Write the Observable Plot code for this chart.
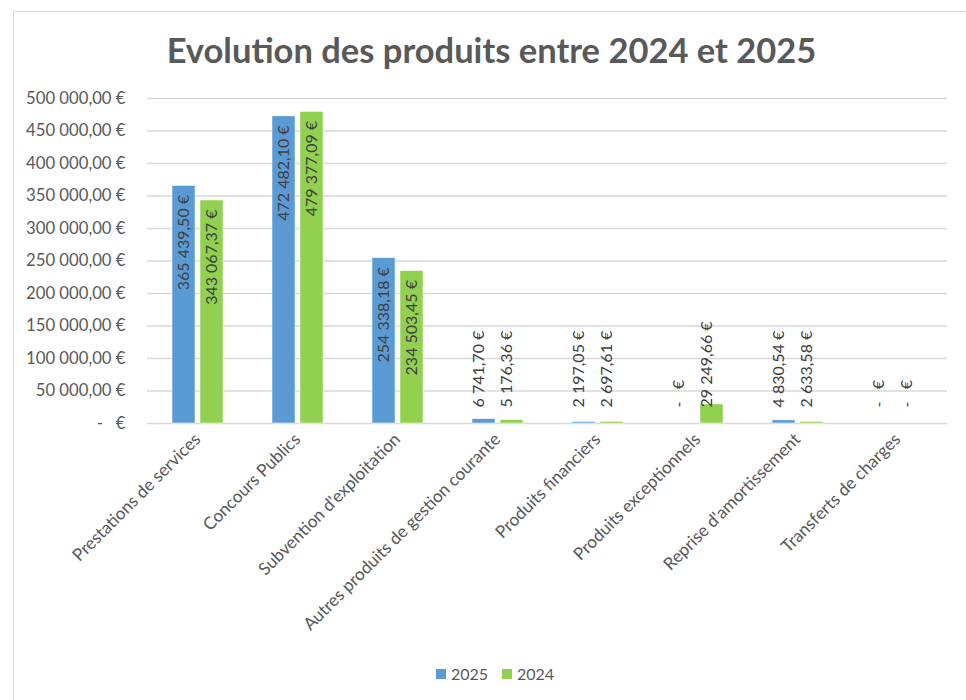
<!DOCTYPE html>
<html><head><meta charset="utf-8">
<script src="https://cdn.jsdelivr.net/npm/d3@7"></script>
<script src="https://cdn.jsdelivr.net/npm/@observablehq/plot@0.6"></script>
<style>
body{margin:0;width:966px;height:700px;overflow:hidden;background:#fff;font-family:Lato,sans-serif;}
#wrap{position:relative;width:966px;height:700px;}
#border{position:absolute;left:13px;top:11px;width:1000px;height:1000px;border:1px solid #d9d9d9;box-sizing:border-box;}
#title{position:absolute;left:0;top:28px;width:983px;text-align:center;font-weight:700;font-size:34.5px;color:#595959;line-height:44px;}
#chart{position:absolute;left:0;top:80px;}
#legend{position:absolute;top:664px;left:0;width:990px;display:flex;justify-content:center;align-items:center;font-size:16px;color:#595959;}
.item{display:flex;align-items:center;margin:0 7px;}
.sw{width:10px;height:10px;margin-right:5px;}
</style></head>
<body><div id="wrap"><div id="border"></div><div id="title">Evolution des produits entre 2024 et 2025</div><div id="chart"></div><div id="legend"></div></div>
<script>
const categories = ["Prestations de services","Concours Publics","Subvention d'exploitation","Autres produits de gestion courante","Produits financiers","Produits exceptionnels","Reprise d'amortissement","Transferts de charges"];
const series = ["2025","2024"];
const values2025 = [365439.50, 472482.10, 254338.18, 6741.70, 2197.05, 0, 4830.54, 0];
const values2024 = [343067.37, 479377.09, 234503.45, 5176.36, 2697.61, 29249.66, 2633.58, 0];
const seriesColors = ["#5B9BD5","#92D050"];
const yTicks = [0,50000,100000,150000,200000,250000,300000,350000,400000,450000,500000];
const yTickLabels = ["-\u00a0\u00a0\u00a0€","50 000,00 €","100 000,00 €","150 000,00 €","200 000,00 €","250 000,00 €","300 000,00 €","350 000,00 €","400 000,00 €","450 000,00 €","500 000,00 €"];

const data = categories.flatMap((c,i)=>[
  {category:c, serie:"2025", value:values2025[i]},
  {category:c, serie:"2024", value:values2024[i]}
]);

function fmt(v){
  if (v === 0) return "-\u00a0\u00a0\u00a0€";
  const [ip, dp] = v.toFixed(2).split(".");
  return ip.replace(/\B(?=(\d{3})+(?!\d))/g, " ") + "," + dp + " €";
}

const inside = data.filter(d => d.value >= 100000);
const outside = data.filter(d => d.value < 100000);

const chart = Plot.plot({
  width: 966, height: 580,
  marginTop: 18, marginBottom: 237, marginLeft: 146, marginRight: 18,
  style: {fontFamily: "Lato, sans-serif", fontSize: "15px", color: "#595959", background: "transparent"},
  fx: {domain: categories, padding: 0, label: null, axis: null},
  x: {domain: series, paddingInner: 0.19, paddingOuter: 0.855, axis: null},
  y: {domain: [0, 500000], axis: null},
  color: {domain: series, range: seriesColors},
  marks: [
    Plot.ruleY(yTicks, {stroke: "#d9d9d9", strokeWidth: 1.3}),
    Plot.barY(data, {fx: "category", x: "serie", y: "value", fill: "serie", stroke: "white", strokeWidth: 0.5}),
    Plot.text(inside, {fx: "category", x: "serie", y: "value", text: d => fmt(d.value), rotate: -90, textAnchor: "end", dy: 9, fill: "#404040", fontSize: 16}),
    Plot.text(outside, {fx: "category", x: "serie", frameAnchor: "bottom", text: d => fmt(d.value), rotate: -90, textAnchor: "start", dy: -16, fill: "#404040", fontSize: 16}),
    Plot.axisY(yTicks, {tickFormat: d => yTickLabels[yTicks.indexOf(d)], tickSize: 0, tickPadding: 22, fontSize: 16.7, fill: "#595959", label: null}),
    Plot.axisFx({anchor: "bottom", tickRotate: -45, tickSize: 0, tickPadding: 13, fontSize: 17.2, fill: "#595959", label: null})
  ]
});
document.getElementById("chart").appendChild(chart);

const legend = document.getElementById("legend");
series.forEach((s,i) => {
  const it = document.createElement("div"); it.className = "item";
  const sw = document.createElement("div"); sw.className = "sw"; sw.style.background = seriesColors[i];
  const t = document.createElement("span"); t.textContent = s;
  it.appendChild(sw); it.appendChild(t); legend.appendChild(it);
});
</script>
</body></html>
